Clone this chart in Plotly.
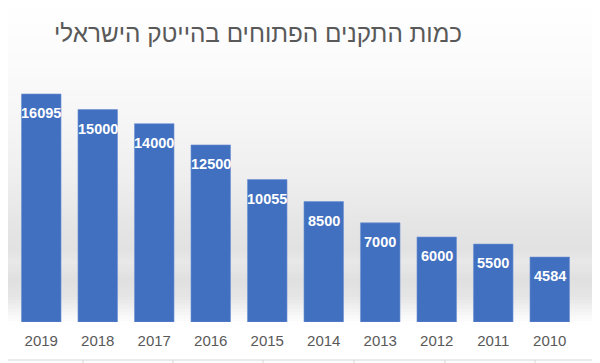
import plotly.graph_objects as go

# ---- data ----
years = ["2019", "2018", "2017", "2016", "2015", "2014", "2013", "2012", "2011", "2010"]
openings = [16095, 15000, 14000, 12500, 10055, 8500, 7000, 6000, 5500, 4584]
title_text = "כמות התקנים הפתוחים בהייטק הישראלי"

# ---- layout geometry (page pixels; the page body has an 8px margin) ----
O = 8
W, H = 600 - O, 363 - O
L, R, T, B = 13, 578, 67, 322   # plot area in page pixels


def px(x):
    return (x - L) / (R - L)


def py(y):
    return (B - y) / (B - T)


fig = go.Figure()
fig.add_trace(go.Bar(
    x=years, y=openings,
    marker=dict(color="#4270c0", line=dict(color="#6f92d3", width=0.6)),
    width=0.7,
    hoverinfo="x+y",
))

annotations = []
# data labels inside the top of each bar (x = category serial number)
for i, v in enumerate(openings):
    annotations.append(dict(x=i, y=v, xref="x", yref="y", text=f"<b>{v}</b>",
                            showarrow=False, yshift=-19,
                            font=dict(family="Liberation Sans, Arial, sans-serif", size=14.5, color="white")))

annotations.append(dict(
    text=title_text, xref="paper", yref="paper", x=px(258), y=py(33),
    xanchor="center", yanchor="middle", showarrow=False,
    font=dict(family="Liberation Sans, DejaVu Sans, sans-serif", size=24.3, color="#595959")))

shapes = []
# background gradient (white -> gray band -> white)
stops = [(0, 255), (60, 251), (120, 246), (180, 238), (230, 228), (250, 226),
         (262, 232), (280, 224), (298, 230), (312, 245), (324, 255), (363, 255)]


def gray_at(y):
    for (y0, g0), (y1, g1) in zip(stops, stops[1:]):
        if y0 <= y <= y1:
            t = (y - y0) / (y1 - y0) if y1 > y0 else 0
            return g0 + (g1 - g0) * t
    return 255


step = 3
y = 0
while y < 330:
    g = int(round(gray_at(y + step / 2)))
    shapes.append(dict(type="rect", xref="paper", yref="paper",
                       x0=px(0), x1=px(594), y0=py(y + step), y1=py(y),
                       fillcolor=f"rgb({g},{g},{g})", line=dict(width=0), layer="below"))
    y += step

# spreadsheet grid around the chart
grid = "#d6d6d6"
shapes.append(dict(type="line", xref="paper", yref="paper", x0=px(594), x1=px(594),
                   y0=py(0), y1=py(360), line=dict(color=grid, width=1)))
shapes.append(dict(type="line", xref="paper", yref="paper", x0=px(0), x1=px(594),
                   y0=py(360), y1=py(360), line=dict(color=grid, width=1)))
for ry in [21, 45, 68, 92, 116, 140, 164, 188, 212, 236, 260, 284, 307, 332, 356]:
    shapes.append(dict(type="line", xref="paper", yref="paper", x0=px(594), x1=px(600),
                       y0=py(ry), y1=py(ry), line=dict(color=grid, width=1)))
for cx in [83, 173, 263, 354, 445, 535]:
    shapes.append(dict(type="line", xref="paper", yref="paper", x0=px(cx), x1=px(cx),
                       y0=py(360), y1=py(363), line=dict(color=grid, width=1)))

fig.update_layout(
    width=W, height=H,
    margin=dict(l=L - O, r=600 - R, t=T - O, b=363 - B, autoexpand=False),
    paper_bgcolor="white", plot_bgcolor="rgba(0,0,0,0)",
    showlegend=False,
    bargap=0.3,
    shapes=shapes,
    annotations=annotations,
    xaxis=dict(type="category", range=[-0.5, len(years) - 0.5], showgrid=False,
               zeroline=False, showline=False, ticks="", ticklabelstandoff=8,
               tickfont=dict(family="Liberation Sans, Arial, sans-serif", size=15, color="#595959"),
               fixedrange=True),
    yaxis=dict(range=[0, 18000], showgrid=False, zeroline=False, showline=False,
               showticklabels=False, fixedrange=True),
)

fig.write_html("out.html")
